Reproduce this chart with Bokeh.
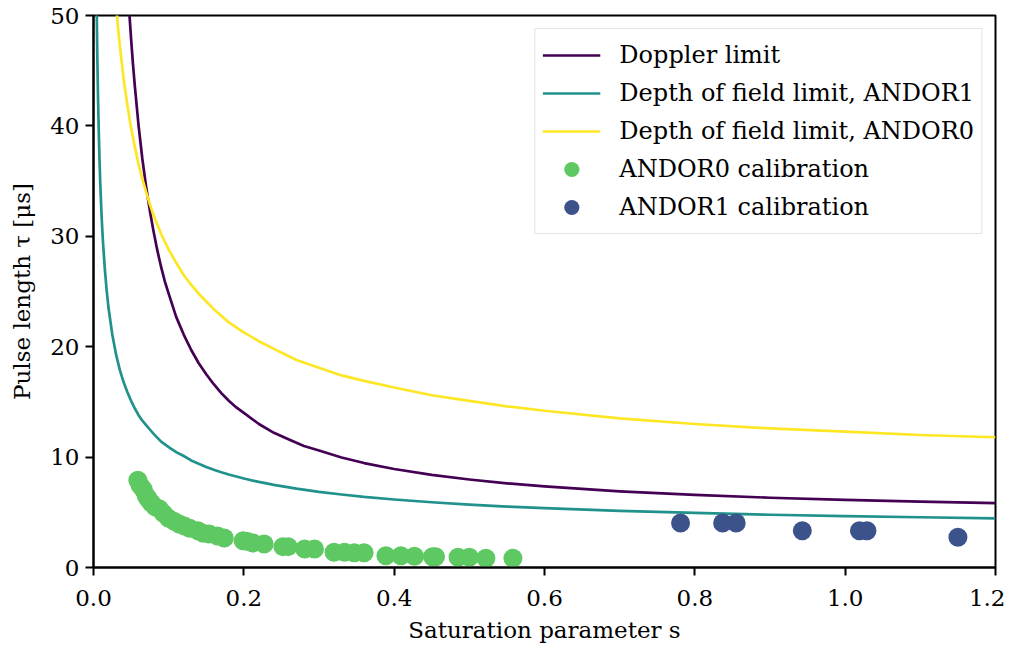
from bokeh.plotting import figure
from bokeh.models import Legend, LegendItem, FixedTicker, Range1d
from bokeh.embed import file_html
from bokeh.resources import INLINE

# ---- data ----
doppler_s = [0.045, 0.0475, 0.05, 0.0525, 0.055, 0.06, 0.065, 0.07, 0.075, 0.08,
             0.085, 0.09, 0.095, 0.1, 0.11, 0.12, 0.13, 0.14, 0.15, 0.16,
             0.17, 0.18, 0.19, 0.2, 0.22, 0.24, 0.26, 0.28, 0.3, 0.33,
             0.36, 0.4, 0.45, 0.5, 0.55, 0.6, 0.7, 0.8, 0.9, 1.0, 1.1, 1.2]
doppler_tau = [53.2, 50.4, 47.9, 45.6, 43.6, 40.0, 37.0, 34.5, 32.3, 30.4,
               28.7, 27.2, 25.9, 24.8, 22.7, 21.1, 19.7, 18.5, 17.5, 16.6,
               15.8, 15.1, 14.5, 14.0, 13.0, 12.2, 11.6, 11.0, 10.6, 9.96,
               9.46, 8.92, 8.39, 7.97, 7.62, 7.34, 6.90, 6.57, 6.32, 6.13, 5.97, 5.84]

dof1_s = [0.004, 0.0045, 0.005, 0.006, 0.007, 0.008, 0.009, 0.01, 0.011, 0.0125,
          0.015, 0.0175, 0.02, 0.025, 0.03, 0.035, 0.04, 0.045, 0.05, 0.055,
          0.06, 0.065, 0.07, 0.075, 0.08, 0.09, 0.1, 0.11, 0.12, 0.13,
          0.14, 0.15, 0.16, 0.17, 0.18, 0.2, 0.22, 0.24, 0.27, 0.3,
          0.33, 0.36, 0.4, 0.45, 0.5, 0.55, 0.6, 0.7, 0.8, 0.9, 1.0, 1.1, 1.2]
dof1_tau = [52.1, 49.2, 46.6, 42.6, 39.5, 36.9, 34.8, 33.1, 31.5, 29.6,
            27.1, 25.1, 23.5, 21.1, 19.3, 17.9, 16.8, 15.9, 15.1, 14.4,
            13.8, 13.3, 12.9, 12.5, 12.1, 11.4, 10.9, 10.45, 10.1, 9.70,
            9.39, 9.11, 8.86, 8.63, 8.42, 8.06, 7.75, 7.48, 7.14, 6.85,
            6.61, 6.39, 6.16, 5.91, 5.70, 5.52, 5.37, 5.13, 4.94, 4.78, 4.65, 4.55, 4.45]

dof0_s = [0.028, 0.03, 0.0325, 0.035, 0.04, 0.045, 0.05, 0.055, 0.06, 0.065,
          0.07, 0.075, 0.08, 0.09, 0.1, 0.11, 0.12, 0.13, 0.14, 0.15,
          0.16, 0.17, 0.18, 0.2, 0.22, 0.24, 0.27, 0.3, 0.33, 0.36,
          0.4, 0.45, 0.5, 0.55, 0.6, 0.7, 0.8, 0.9, 1.0, 1.1, 1.2]
dof0_tau = [52.7, 50.9, 49.0, 47.3, 44.3, 41.9, 39.8, 38.1, 36.5, 35.2,
            34.0, 32.9, 31.9, 30.2, 28.8, 27.6, 26.5, 25.6, 24.8, 24.1,
            23.4, 22.8, 22.2, 21.3, 20.5, 19.8, 18.8, 18.1, 17.4, 16.9,
            16.3, 15.6, 15.1, 14.6, 14.2, 13.5, 13.0, 12.6, 12.3, 12.0, 11.8]

andor0_s = [0.059, 0.062, 0.066, 0.070, 0.073, 0.077, 0.082, 0.088, 0.093, 0.100, 0.107, 0.114,
            0.121, 0.128, 0.139, 0.146, 0.154, 0.165, 0.174, 0.199, 0.205, 0.212, 0.227, 0.252,
            0.259, 0.281, 0.294, 0.320, 0.334, 0.347, 0.360, 0.389, 0.409, 0.427, 0.451, 0.455,
            0.485, 0.500, 0.522, 0.558]
andor0_tau = [7.91, 7.45, 7.10, 6.50, 6.20, 5.84, 5.50, 5.29, 4.90, 4.45, 4.20, 3.94,
              3.75, 3.55, 3.33, 3.10, 3.03, 2.85, 2.67, 2.43, 2.35, 2.22, 2.13, 1.89,
              1.89, 1.68, 1.68, 1.38, 1.38, 1.33, 1.33, 1.07, 1.07, 1.02, 0.98, 0.98,
              0.93, 0.93, 0.84, 0.84]

andor1_s = [0.781, 0.837, 0.855, 0.943, 1.019, 1.029, 1.150]
andor1_tau = [4.03, 4.03, 4.03, 3.33, 3.33, 3.33, 2.74]

x_ticks = [0.0, 0.2, 0.4, 0.6, 0.8, 1.0, 1.2]
y_ticks = [0, 10, 20, 30, 40, 50]

labels = ["Doppler limit", "Depth of field limit, ANDOR1", "Depth of field limit, ANDOR0",
          "ANDOR0 calibration", "ANDOR1 calibration"]
colors = ["#440154", "#21918c", "#fde725", "#5ec962", "#3b528b"]

FONT = "DejaVu Serif"
FS = "23px"

p = figure(width=1005, height=645, output_backend="svg", toolbar_location=None,
           x_range=Range1d(0, 1.2), y_range=Range1d(0, 50),
           min_border_left=93, min_border_right=10, min_border_top=15, min_border_bottom=76)

p.xgrid.visible = False
p.ygrid.visible = False
p.outline_line_color = "black"
p.outline_line_width = 2
p.outline_line_alpha = 1.0

LW = 2.7
r1 = p.line(doppler_s, doppler_tau, line_color=colors[0], line_width=LW, line_join="round")
r2 = p.line(dof1_s, dof1_tau, line_color=colors[1], line_width=LW, line_join="round")
r3 = p.line(dof0_s, dof0_tau, line_color=colors[2], line_width=LW, line_join="round")
r4 = p.scatter(andor0_s, andor0_tau, size=19, fill_color=colors[3], line_color=None)
r5 = p.scatter(andor1_s, andor1_tau, size=19, fill_color=colors[4], line_color=None)

for ax in (p.xaxis[0], p.yaxis[0]):
    ax.axis_line_width = 2
    ax.axis_line_color = "black"
    ax.major_tick_line_width = 2
    ax.major_tick_line_color = "black"
    ax.major_tick_out = 8
    ax.major_tick_in = 0
    ax.minor_tick_line_color = None
    ax.major_label_text_font = FONT
    ax.major_label_text_font_size = FS
    ax.major_label_text_color = "black"
    ax.axis_label_text_font = FONT
    ax.axis_label_text_font_size = FS
    ax.axis_label_text_font_style = "normal"
    ax.axis_label_text_color = "black"

p.xaxis.ticker = FixedTicker(ticks=x_ticks)
p.yaxis.ticker = FixedTicker(ticks=y_ticks)
p.xaxis.major_label_overrides = {t: f"{t:.1f}" for t in x_ticks}
p.xaxis.major_label_standoff = 14
p.yaxis.major_label_standoff = 6
p.xaxis.axis_label = "Saturation parameter s"
p.yaxis.axis_label = "Pulse length τ [μs]"
p.xaxis.axis_label_standoff = 8
p.yaxis.axis_label_standoff = 12

legend = Legend(items=[LegendItem(label=labels[i], renderers=[r]) for i, r in
                       enumerate([r1, r2, r3, r4, r5])],
                location="top_right")
legend.label_text_font = FONT
legend.label_text_font_size = "24px"
legend.label_text_color = "black"
legend.glyph_width = 58
legend.glyph_height = 38
legend.label_height = 38
legend.label_standoff = 19
legend.spacing = 0
legend.padding = 7
legend.margin = 13
legend.border_line_color = "#cccccc"
legend.border_line_width = 1.5
legend.background_fill_color = "white"
legend.background_fill_alpha = 0.8
p.add_layout(legend)

open("out.html", "w").write(file_html(p, INLINE))
